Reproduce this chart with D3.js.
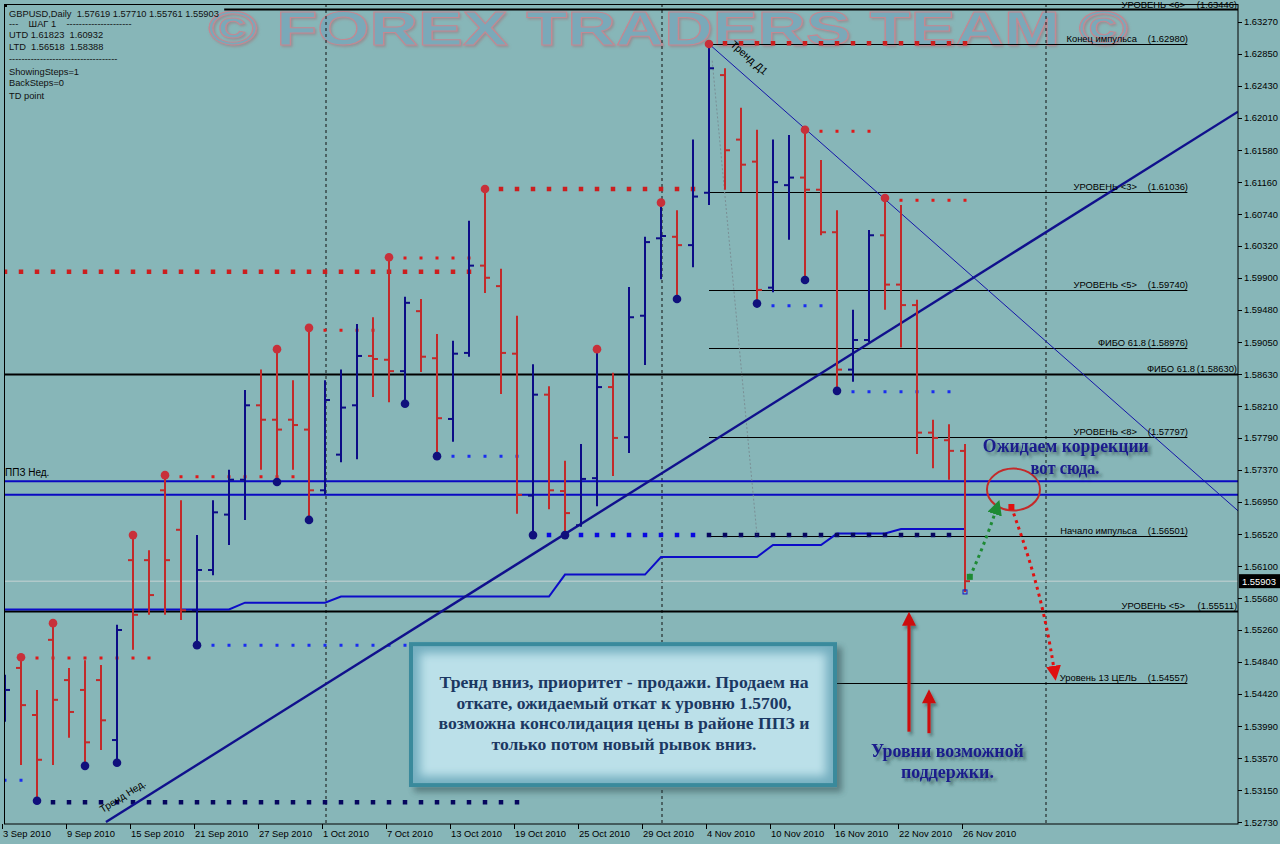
<!DOCTYPE html>
<html><head><meta charset="utf-8">
<script src="https://cdn.jsdelivr.net/npm/d3@7"></script>
<style>html,body{margin:0;padding:0;background:#87b6b8;overflow:hidden}svg{display:block}</style>
</head><body>
<svg id="chart" width="1280" height="844"></svg>
<script>
// ---------------- DATA ----------------
const dates = ["2010-09-03","2010-09-06","2010-09-07","2010-09-08","2010-09-09","2010-09-10","2010-09-13","2010-09-14","2010-09-15","2010-09-16","2010-09-17","2010-09-20","2010-09-21","2010-09-22","2010-09-23","2010-09-24","2010-09-27","2010-09-28","2010-09-29","2010-09-30",
"2010-10-01","2010-10-04","2010-10-05","2010-10-06","2010-10-07","2010-10-08","2010-10-11","2010-10-12","2010-10-13","2010-10-14","2010-10-15","2010-10-18","2010-10-19","2010-10-20","2010-10-21","2010-10-22","2010-10-25","2010-10-26","2010-10-27","2010-10-28","2010-10-29",
"2010-11-01","2010-11-02","2010-11-03","2010-11-04","2010-11-05","2010-11-08","2010-11-09","2010-11-10","2010-11-11","2010-11-12","2010-11-15","2010-11-16","2010-11-17","2010-11-18","2010-11-19","2010-11-22","2010-11-23","2010-11-24","2010-11-25","2010-11-26"];

const openP = [1.5418,1.5476,1.5414,1.5513,1.5460,1.5447,1.5460,1.5381,1.5618,1.5618,
 1.5710,1.5658,1.5552,1.5605,1.5678,1.5724,1.5822,1.5803,1.5803,1.5790,
 1.5710,1.5757,1.5822,1.5887,1.5882,1.5867,1.5946,1.5884,1.5804,1.5891,
 1.6006,1.5979,1.5890,1.5703,1.5836,1.5709,1.5664,1.5726,1.5846,1.5780,
 1.5940,1.6042,1.6044,1.6033,1.6102,1.6257,1.6172,1.6143,1.5977,1.6112,
 1.6122,1.6106,1.6050,1.5869,1.5908,1.6046,1.5981,1.5954,1.5786,1.5776,1.57619];
const highP = [1.5467,1.5490,1.5447,1.5535,1.5476,1.5486,1.5480,1.5533,1.5651,1.5631,
 1.5730,1.5697,1.5651,1.5697,1.5737,1.5842,1.5869,1.5896,1.5855,1.5924,
 1.5855,1.5869,1.5929,1.5938,1.6017,1.5965,1.5962,1.5916,1.5907,1.6065,
 1.6107,1.6002,1.5940,1.5876,1.5847,1.5749,1.5771,1.5896,1.5865,1.5978,
 1.6044,1.6089,1.6079,1.6172,1.6298,1.6266,1.6214,1.6185,1.6172,1.6178,
 1.6185,1.6145,1.6079,1.5948,1.6053,1.6095,1.6086,1.5961,1.5803,1.5797,1.57710];
const lowP = [1.5405,1.5348,1.5301,1.5348,1.5384,1.5347,1.5368,1.5351,1.5500,1.5546,
 1.5546,1.5539,1.5506,1.5598,1.5638,1.5671,1.5737,1.5721,1.5737,1.5671,
 1.5704,1.5747,1.5751,1.5833,1.5826,1.5824,1.5866,1.5755,1.5774,1.5886,
 1.5970,1.5837,1.5679,1.5651,1.5685,1.5651,1.5662,1.5689,1.5729,1.5759,
 1.5875,1.5988,1.5962,1.6004,1.6086,1.6106,1.6103,1.5956,1.5971,1.6040,
 1.5987,1.6046,1.5841,1.5853,1.5905,1.5948,1.5898,1.5758,1.5739,1.5724,1.55761];
const closeP = [1.5447,1.5427,1.5355,1.5434,1.5418,1.5378,1.5407,1.5526,1.5546,1.5572,
 1.5618,1.5552,1.5605,1.5681,1.5724,1.5822,1.5803,1.5790,1.5796,1.5710,
 1.5829,1.5819,1.5887,1.5883,1.5867,1.5957,1.5886,1.5805,1.5890,1.6006,
 1.5990,1.5891,1.5704,1.5836,1.5710,1.5680,1.5725,1.5846,1.5779,1.5938,
 1.6037,1.6045,1.6033,1.6097,1.6266,1.6158,1.6139,1.5974,1.6116,1.6122,
 1.6106,1.6050,1.5869,1.5908,1.6046,1.5981,1.5954,1.5786,1.5779,1.5762,1.55903];

// trailing support step line (one value per bar)
const stepLine = [1.5553,1.5553,1.5553,1.5553,1.5553,1.5553,1.5553,1.5553,1.5553,1.5553,1.5553,1.5553,1.5553,1.5553,1.5553,
 1.5562,1.5562,1.5562,1.5562,1.5562,1.5562,
 1.5570,1.5570,1.5570,1.5570,1.5570,1.5570,1.5570,1.5570,1.5570,1.5570,1.5570,1.5570,1.5570,1.5570,
 1.5599,1.5599,1.5599,1.5599,1.5599,1.5599,
 1.5622,1.5622,1.5622,1.5622,1.5622,1.5622,1.5622,
 1.5638,1.5638,1.5638,1.5638,
 1.5653,1.5653,1.5653,1.5653,
 1.5659,1.5659,1.5659,1.5659,1.5659];

// TD points (indices of bars)
const highPoints = [1,3,8,10,17,19,24,30,37,41,44,50,55];
const lowPoints  = [2,5,7,12,17,19,25,27,33,35,42,47,50,52];

// dotted TD lines: [fromIndex, toIndex, price, kind]
const dotFrom  = [0, 25, 31, 20, 11, 2, 45, 51, 56, 3, 13, 28, 34, 44, 48, 53, 0];
const dotTo    = [29,29, 43, 23, 18, 9, 60, 54, 60, 32,25, 32, 43, 59, 51, 59, 1];
const dotPrice = [1.5998,1.6016,1.6107,1.5921,1.5728,1.5489,1.6299,1.6183,1.6092,1.5299,1.5506,1.5755,1.5651,1.5651,1.5953,1.5840,1.5328];
const dotKind  = ["rt","rs","rt","rs","rs","rs","rt","rs","rs","nt","bs","bs","bt","nt","bs","bs","bs"];

// horizontal levels
const levelNames  = ["УРОВЕНЬ <6>","Конец импульса","УРОВЕНЬ <3>","УРОВЕНЬ <5>","ФИБО 61.8","ФИБО 61.8","УРОВЕНЬ <8>","Начало импульса","УРОВЕНЬ <5>","Уровень 13 ЦЕЛЬ"];
const levelValues = [1.63446,1.62980,1.61036,1.59740,1.58976,1.58630,1.57797,1.56501,1.55511,1.54557];
const levelFrom   = [13.7,44,44,44,44,-0.0625,44,44,-0.0625,51.9];
const levelTo     = [77.0625,73.9,73.9,73.9,73.9,77.0625,73.9,73.9,77.0625,73.9];

// weekly buy/sell zone (ППЗ Нед.)
const zoneLevels = [1.5722, 1.5704];

// trend lines [i0, p0, i1, p1]
const weeklyTrend = [6.31, 1.52730, 77.0625, 1.62088];
const dailyTrend  = [44, 1.62980, 77.0625, 1.56830];

const priceTicks = [1.63270,1.62850,1.62430,1.62010,1.61580,1.61160,1.60740,1.60320,1.59900,1.59480,1.59050,1.58630,1.58210,1.57790,1.57370,1.56950,1.56520,1.56100,1.55680,1.55260,1.54840,1.54420,1.53990,1.53570,1.53150,1.52730];
const separators = [20, 41, 65];
const lastPrice = 1.55903;

const infoLines = ["GBPUSD,Daily  1.57619 1.57710 1.55761 1.55903","---    ШАГ 1    ---------------------","UTD 1.61823  1.60932","LTD  1.56518  1.58388","-----------------------------------","ShowingSteps=1","BackSteps=0","TD point"];
const boxLines = ["Тренд вниз, приоритет - продажи. Продаем на","откате, ожидаемый откат к уровню 1.5700,","возможна консолидация цены в районе ППЗ и","только потом новый рывок вниз."];

// ---------------- DRAW ----------------
const svg = d3.select("#chart");
const x = d3.scaleLinear().domain([-0.0625, 77.0625]).range([4, 1238]);
const y = d3.scaleLinear().domain([1.52704, 1.63454]).range([824, 8]);
const parse = d3.timeParse("%Y-%m-%d"), fmt = d3.timeFormat("%-d %b %Y");
const F = "'Liberation Sans', Arial, sans-serif";
const SERIF = "'Liberation Serif', 'DejaVu Serif', serif";

svg.append("defs").html(`
 <filter id="sh" x="-20%" y="-40%" width="150%" height="200%"><feDropShadow dx="3" dy="3" stdDeviation="1.6" flood-color="#1d3a3a" flood-opacity="0.55"/></filter>
 <filter id="shs" x="-20%" y="-40%" width="150%" height="200%"><feDropShadow dx="2" dy="3" stdDeviation="1.5" flood-color="#203838" flood-opacity="0.5"/></filter>
 <filter id="blur5"><feGaussianBlur stdDeviation="5"/></filter>
 <filter id="blur3" x="-10%" y="-10%" width="130%" height="130%"><feGaussianBlur stdDeviation="3"/></filter>
 <filter id="wm" x="-5%" y="-20%" width="110%" height="150%"><feDropShadow dx="1.5" dy="1.5" stdDeviation="1" flood-color="#a06a70" flood-opacity="0.5"/></filter>
 <marker id="ag" viewBox="0 0 10 10" refX="5" refY="5" markerWidth="5" markerHeight="5" orient="auto"><path d="M0,0L10,5L0,10z" fill="#1e8a34"/></marker>
 <marker id="ar" viewBox="0 0 10 10" refX="5" refY="5" markerWidth="5" markerHeight="5" orient="auto"><path d="M0,0L10,5L0,10z" fill="#e01010"/></marker>
 <clipPath id="plotclip"><rect x="4" y="4" width="1234" height="820"/></clipPath>
`);

svg.append("rect").attr("width",1280).attr("height",844).attr("fill","#87b6b8");

// watermark
svg.append("text").attr("x",208).attr("y",45).attr("textLength",920).attr("lengthAdjust","spacingAndGlyphs")
  .style("font",`bold 49px ${F}`).attr("fill","#7aa9b9").attr("stroke","#c48892").attr("stroke-width",1)
  .attr("filter","url(#wm)").text("© FOREX TRADERS TEAM ©");

const plot = svg.append("g").attr("clip-path","url(#plotclip)");

// separators
plot.selectAll(".sep").data(separators).join("line")
  .attr("x1",d=>x(d)+1).attr("x2",d=>x(d)+1).attr("y1",4).attr("y2",824)
  .attr("stroke","#111").attr("stroke-dasharray","3,3").attr("stroke-width",1);

// last price line
plot.append("line").attr("x1",4).attr("x2",1238).attr("y1",y(lastPrice)).attr("y2",y(lastPrice))
  .attr("stroke","#c5d3d3").attr("stroke-width",1);

// levels
const thick = [0,5,8];
plot.selectAll(".lvl").data(levelValues).join("line")
  .attr("x1",(d,i)=>x(levelFrom[i])).attr("x2",(d,i)=>x(levelTo[i]))
  .attr("y1",d=>Math.round(y(d))+0.5).attr("y2",d=>Math.round(y(d))+0.5)
  .attr("stroke","#000").attr("stroke-width",(d,i)=>thick.includes(i)?2:1);

// zone lines
plot.selectAll(".zone").data(zoneLevels).join("line")
  .attr("x1",4).attr("x2",1238).attr("y1",d=>y(d)).attr("y2",d=>y(d))
  .attr("stroke","#0a0ac2").attr("stroke-width",2);

// step line
plot.append("path")
  .attr("d", d3.line().x((d,i)=>x(i)).y(d=>y(d))(stepLine))
  .attr("fill","none").attr("stroke","#0c0cc8").attr("stroke-width",2);
plot.append("line").attr("x1",4).attr("x2",x(0)).attr("y1",y(stepLine[0])).attr("y2",y(stepLine[0]))
  .attr("stroke","#0c0cc8").attr("stroke-width",2);

// dotted TD lines
const kindStyle = {
  rt:{c:"#cc1e1e",w:4.5}, rs:{c:"#e01818",w:3},
  nt:{c:"#06065e",w:4.5}, bt:{c:"#0808e0",w:4.5}, bs:{c:"#1a2cf0",w:3}
};
dotPrice.forEach((p,k)=>{
  const s = kindStyle[dotKind[k]];
  plot.append("line")
    .attr("x1",x(dotFrom[k])-s.w/2).attr("x2",x(dotTo[k])+s.w/2)
    .attr("y1",y(p)).attr("y2",y(p))
    .attr("stroke",s.c).attr("stroke-width",s.w)
    .attr("stroke-dasharray",`${s.w},${16-s.w}`);
});

// faint dotted helper line
plot.append("line").attr("x1",x(44.2)).attr("y1",y(1.6276)).attr("x2",x(47)).attr("y2",y(1.5651))
  .attr("stroke","#7a8f95").attr("stroke-width",1).attr("stroke-dasharray","2,2");

// trend lines
plot.append("line").attr("x1",x(weeklyTrend[0])).attr("y1",y(weeklyTrend[1])).attr("x2",x(weeklyTrend[2])).attr("y2",y(weeklyTrend[3]))
  .attr("stroke","#10108c").attr("stroke-width",2.4);
plot.append("line").attr("x1",x(dailyTrend[0])).attr("y1",y(dailyTrend[1])).attr("x2",x(dailyTrend[2])).attr("y2",y(dailyTrend[3]))
  .attr("stroke","#1414a8").attr("stroke-width",1);

// OHLC bars
const bars = plot.selectAll(".bar").data(dates).join("g")
  .attr("stroke",(d,i)=>closeP[i]>=openP[i]?"#0c0c86":"#c22a2a").attr("stroke-width",2);
bars.append("line").attr("x1",(d,i)=>x(i)).attr("x2",(d,i)=>x(i)).attr("y1",(d,i)=>y(highP[i])).attr("y2",(d,i)=>y(lowP[i]));
bars.append("line").attr("x1",(d,i)=>x(i)-5).attr("x2",(d,i)=>x(i)).attr("y1",(d,i)=>y(openP[i])).attr("y2",(d,i)=>y(openP[i]));
bars.append("line").attr("x1",(d,i)=>x(i)).attr("x2",(d,i)=>x(i)+5).attr("y1",(d,i)=>y(closeP[i])).attr("y2",(d,i)=>y(closeP[i]));

// TD points
plot.selectAll(".hp").data(highPoints).join("circle")
  .attr("cx",i=>x(i)).attr("cy",i=>y(highP[i])).attr("r",4.3).attr("fill","#c8303a");
plot.selectAll(".lp").data(lowPoints).join("circle")
  .attr("cx",i=>x(i)).attr("cy",i=>y(lowP[i])).attr("r",4.3).attr("fill","#10107c");
plot.append("rect").attr("x",x(60)-2).attr("y",y(lowP[60])-2).attr("width",4).attr("height",4)
  .attr("fill","none").attr("stroke","#1414c8").attr("stroke-width",1);

// level labels
const nameRight = [1185,1137,1137,1137,1146,1195,1137,1137,1185,1137];
const valRight  = [1237,1188,1188,1188,1188,1237,1188,1188,1237,1188];
levelValues.forEach((v,i)=>{
  const yy = i===0 ? 7.5 : Math.round(y(v)) - 2;
  svg.append("text").attr("x",nameRight[i]).attr("y",yy).attr("text-anchor","end")
    .style("font",`9.4px ${F}`).attr("fill","#000").text(levelNames[i]);
  svg.append("text").attr("x",valRight[i]).attr("y",yy).attr("text-anchor","end")
    .style("font",`9.4px ${F}`).attr("fill","#000").text(`(${v.toFixed(5)})`);
});

// zone label
svg.append("text").attr("x",5).attr("y",y(zoneLevels[0])-5).style("font",`10px ${F}`).attr("fill","#000").text("ППЗ Нед.");

// trend labels
{
  const a1 = Math.atan2(y(weeklyTrend[3])-y(weeklyTrend[1]), x(weeklyTrend[2])-x(weeklyTrend[0]))*180/Math.PI;
  svg.append("text").attr("transform",`translate(${x(6.1)},${y(1.52850)}) rotate(${a1})`)
    .style("font",`10px ${F}`).attr("fill","#000").text("Тренд Нед.");
  const a2 = Math.atan2(y(dailyTrend[3])-y(dailyTrend[1]), x(dailyTrend[2])-x(dailyTrend[0]))*180/Math.PI;
  svg.append("text").attr("transform",`translate(${x(45.3)},${y(1.62960)}) rotate(${a2})`)
    .style("font",`10.5px ${F}`).attr("fill","#000").text("Тренд Д1");
}

// info block
svg.append("g").selectAll("text").data(infoLines).join("text")
  .attr("x",9).attr("y",(d,i)=>[17,27,38,50,62,74.5,86,98.5][i])
  .style("font",`9.3px ${F}`).style("white-space","pre").attr("fill","#111").text(d=>d);
svg.append("rect").attr("x",5).attr("y",5).attr("width",2).attr("height",2).attr("fill","#000");

// frame
svg.append("rect").attr("x",4.5).attr("y",4.5).attr("width",1233.5).attr("height",819.5)
  .attr("fill","none").attr("stroke","#000").attr("stroke-width",1);

// right axis
const ax = svg.append("g");
ax.selectAll("line").data(priceTicks).join("line")
  .attr("x1",1238).attr("x2",1242).attr("y1",d=>Math.round(y(d))+0.5).attr("y2",d=>Math.round(y(d))+0.5).attr("stroke","#000");
ax.selectAll("text").data(priceTicks).join("text")
  .attr("x",1244).attr("y",d=>y(d)+3.5).style("font",`9.4px ${F}`).attr("fill","#000").text(d=>d.toFixed(5));
ax.append("rect").attr("x",1239).attr("y",y(lastPrice)-7).attr("width",41).attr("height",14).attr("fill","#000");
ax.append("text").attr("x",1242).attr("y",y(lastPrice)+3.5).style("font",`9.4px ${F}`).attr("fill","#fff").text(lastPrice.toFixed(5));

// bottom axis
const tickIdx = d3.range(0, dates.length, 4);
const bx = svg.append("g");
bx.selectAll("line").data(tickIdx).join("line")
  .attr("x1",i=>Math.round(x(i))-2.5).attr("x2",i=>Math.round(x(i))-2.5).attr("y1",824).attr("y2",829).attr("stroke","#000");
bx.selectAll("text").data(tickIdx).join("text")
  .attr("x",i=>x(i)-2).attr("y",837).style("font",`9.4px ${F}`).attr("fill","#000").text(i=>fmt(parse(dates[i])));

// ---------------- ANNOTATIONS ----------------
const an = svg.append("g");
[[53.9,69.6,1.5557],[55.0,72.2,1.5451]].forEach(r=>{
  an.append("line").attr("x1",x(r[0])).attr("x2",x(r[1])).attr("y1",y(r[2])).attr("y2",y(r[2]))
    .attr("stroke","#d41212").attr("stroke-width",4).attr("stroke-dasharray","4,3").attr("filter","url(#shs)");
});
[[56.5,1.5392,1.5550],[57.75,1.5390,1.5448]].forEach(a=>{
  const ax0 = x(a[0]), yb = y(a[1]), yt = y(a[2]);
  const g = an.append("g").attr("filter","url(#shs)");
  g.append("line").attr("x1",ax0).attr("x2",ax0).attr("y1",yb).attr("y2",yt+12).attr("stroke","#cc1010").attr("stroke-width",3.2);
  g.append("path").attr("d",`M${ax0-7},${yt+14}L${ax0},${yt}L${ax0+7},${yt+14}Z`).attr("fill","#cc1010");
});
an.append("ellipse").attr("cx",x(63.03)).attr("cy",y(1.5711)).attr("rx",26.5).attr("ry",21)
  .attr("fill","none").attr("stroke","#c42a2a").attr("stroke-width",2);
{
  const x0=x(60.3), y0=y(1.5596), x1=x(62.0), y1=y(1.5688);
  an.append("rect").attr("x",x0-3).attr("y",y0-3).attr("width",6).attr("height",6).attr("fill","#1e8a34");
  an.append("path").attr("d",`M${x0},${y0} Q${x0+14},${y0-30} ${x1},${y1}`)
    .attr("fill","none").attr("stroke","#1e8a34").attr("stroke-width",3).attr("stroke-dasharray","3,4").attr("marker-end","url(#ag)");
}
{
  const x0=x(62.9), y0=y(1.5688), x1=x(65.6), y1=y(1.5469);
  an.append("rect").attr("x",x0-3).attr("y",y0-3).attr("width",6).attr("height",6).attr("fill","#e01010");
  an.append("path").attr("d",`M${x0},${y0} C${x0+14},${y0+40} ${x0+32},${y0+90} ${x1},${y1}`)
    .attr("fill","none").attr("stroke","#e01010").attr("stroke-width",3).attr("stroke-dasharray","3,4").attr("marker-end","url(#ar)");
}
const annoStyle = (sel,len)=>sel.style("font",`bold 18px ${SERIF}`).attr("fill","#1a1a8c").attr("text-anchor","middle")
   .attr("filter","url(#sh)").attr("textLength",len).attr("lengthAdjust","spacingAndGlyphs");
annoStyle(an.append("text").attr("x",x(66.3)).attr("y",y(1.5761)).text("Ожидаем коррекции"),166);
annoStyle(an.append("text").attr("x",x(66.25)).attr("y",y(1.5731)).text("вот сюда."),69);
annoStyle(an.append("text").attr("x",x(58.9)).attr("y",y(1.5359)).text("Уровни возможной"),153);
annoStyle(an.append("text").attr("x",x(58.9)).attr("y",y(1.5331)).text("поддержки."),93);

// text box
{
  const x0=x(25.25), x1=x(52.0), y0=y(1.5510), y1=y(1.5319);
  const w=x1-x0, h=y1-y0;
  const g = svg.append("g");
  g.append("rect").attr("x",x0+5).attr("y",y0+5).attr("width",w).attr("height",h).attr("fill","#203a40").attr("opacity",0.45).attr("filter","url(#blur3)");
  g.append("clipPath").attr("id","boxclip").append("rect").attr("x",x0).attr("y",y0).attr("width",w).attr("height",h);
  g.append("rect").attr("x",x0).attr("y",y0).attr("width",w).attr("height",h).attr("fill","#bbe0e9");
  g.append("rect").attr("x",x0).attr("y",y0).attr("width",w).attr("height",h).attr("fill","none")
    .attr("stroke","#74afc0").attr("stroke-width",22).attr("filter","url(#blur5)").attr("clip-path","url(#boxclip)");
  g.append("rect").attr("x",x0+2).attr("y",y0+2).attr("width",w-4).attr("height",h-4).attr("fill","none")
    .attr("stroke","#3a8a9c").attr("stroke-width",4);
  const widths=[369,335,371,265];
  g.selectAll("text.bt").data(boxLines).join("text")
    .attr("x",x0+w/2+1).attr("y",(d,i)=>y0+46+i*20.5).attr("text-anchor","middle")
    .attr("textLength",(d,i)=>widths[i]).attr("lengthAdjust","spacingAndGlyphs")
    .style("font",`bold 16.5px ${SERIF}`).attr("fill","#1b3862").text(d=>d);
}
</script>
</body></html>
